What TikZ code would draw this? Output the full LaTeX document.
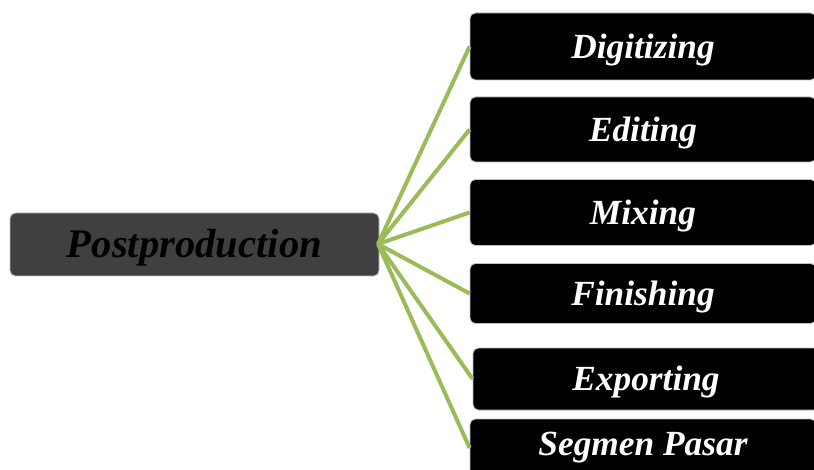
\documentclass[tikz,border=0pt]{standalone}
\usepackage{fontspec}
\setmainfont{Liberation Serif}
\definecolor{linkgreen}{HTML}{9BBB59}
\definecolor{mainfill}{HTML}{404040}
\definecolor{edgegray}{HTML}{BFBFBF}
\newcommand{\lowtext}[1]{\raisebox{-2.5pt}[\height][\depth]{#1}}
\begin{document}
\begin{tikzpicture}[x=0.75pt,y=-0.75pt,
  mainbox/.style={draw=edgegray, line width=0.6pt, fill=mainfill, rounded corners=4pt,
    minimum width=369*0.75pt, minimum height=63*0.75pt, inner sep=0pt,
    font=\fontsize{30.5}{34}\selectfont\bfseries\itshape, text=black},
  subbox/.style={draw=edgegray, line width=0.6pt, fill=black, rounded corners=4pt,
    minimum width=346*0.75pt, inner sep=0pt,
    font=\fontsize{26.5}{30}\selectfont\bfseries\itshape, text=white},
  link/.style={draw=linkgreen, line width=3pt}]
\useasboundingbox (0,0) rectangle (814,470);
\node[mainbox] (post) at (194.5,244.5) {\lowtext{Postproduction}};
\node[subbox, minimum height=67*0.75pt] (dig) at (643,46.5) {\lowtext{Digitizing}};
\node[subbox, minimum height=65*0.75pt] (edi) at (643,129.5) {\lowtext{Editing}};
\node[subbox, minimum height=66*0.75pt] (mix) at (643,212.5) {\lowtext{Mixing}};
\node[subbox, minimum height=60*0.75pt] (fin) at (643,293.5) {\lowtext{Finishing}};
\node[subbox, minimum height=62*0.75pt] (exp) at (646,379) {\lowtext{Exporting}};
\node[subbox, minimum height=58*0.75pt] (seg) at (643,448) {Segmen Pasar};
\coordinate (hub) at (378,244);
\foreach \t in {dig,edi,mix,fin,exp,seg} {
  \draw[link] (hub) -- (\t.west);
}
\end{tikzpicture}
\end{document}
